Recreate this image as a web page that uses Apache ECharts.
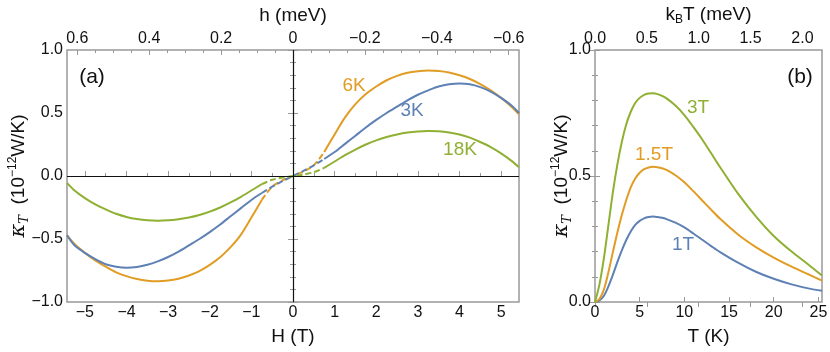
<!DOCTYPE html>
<html>
<head>
<meta charset="utf-8">
<script src="https://cdn.jsdelivr.net/npm/echarts@6/dist/echarts.min.js"></script>
<style>
  html, body { margin: 0; padding: 0; background: #fff; }
  #chart { width: 830px; height: 352px; }
</style>
</head>
<body>
<div id="chart"></div>
<script>
// panel (a): transverse thermal conductivity vs field
const fieldH = [-5.43, -5.25, -5, -4.75, -4.5, -4.25, -4, -3.75, -3.5, -3.25, -3, -2.75, -2.5, -2.25, -2, -1.75,
  -1.5, -1.25, -1, -0.75, -0.5, -0.25, 0,
  0.25, 0.5, 0.75, 1, 1.25, 1.5, 1.75, 2, 2.25, 2.5, 2.75, 3, 3.25, 3.5, 3.75, 4, 4.25, 4.5, 4.75, 5, 5.25, 5.43];
const kappa6K = [-0.47, -0.54, -0.61, -0.67, -0.72, -0.765, -0.795, -0.818, -0.832, -0.836, -0.83, -0.815, -0.79,
  -0.755, -0.705, -0.645, -0.565, -0.465, -0.33, -0.19, -0.085, -0.035, 0,
  0.035, 0.085, 0.19, 0.33, 0.465, 0.57, 0.65, 0.71, 0.76, 0.795, 0.82, 0.832, 0.837, 0.834, 0.822, 0.80,
  0.77, 0.73, 0.68, 0.62, 0.55, 0.49];
const kappa3K = [-0.47, -0.55, -0.61, -0.66, -0.7, -0.72, -0.728, -0.722, -0.705, -0.678, -0.643, -0.6, -0.55,
  -0.5, -0.445, -0.385, -0.32, -0.255, -0.19, -0.135, -0.085, -0.04, 0,
  0.04, 0.085, 0.135, 0.19, 0.255, 0.32, 0.385, 0.445, 0.50, 0.55, 0.60, 0.645, 0.68, 0.71, 0.728, 0.735,
  0.728, 0.705, 0.67, 0.62, 0.56, 0.50];
const kappa18K = [-0.055, -0.115, -0.175, -0.225, -0.265, -0.3, -0.325, -0.342, -0.352, -0.355, -0.352, -0.343,
  -0.33, -0.31, -0.283, -0.25, -0.21, -0.165, -0.115, -0.065, -0.03, -0.012, 0,
  0.012, 0.03, 0.065, 0.115, 0.165, 0.21, 0.25, 0.283, 0.31, 0.33, 0.345, 0.354, 0.357, 0.355, 0.346, 0.33,
  0.305, 0.27, 0.23, 0.18, 0.12, 0.07];
const dashLimit = 0.75;

// panel (b): vs temperature
const tempT = [0, 0.5, 1, 1.5, 2, 2.5, 3, 3.5, 4, 4.5, 5, 5.5, 6, 6.5, 7, 7.5, 8, 9, 10, 11, 12, 13, 14, 16, 18, 20, 22, 24, 25.4];
const kappa1T = [0, 0.006, 0.025, 0.062, 0.108, 0.158, 0.205, 0.246, 0.28, 0.306, 0.322, 0.332, 0.337, 0.339, 0.337,
  0.334, 0.329, 0.315, 0.296, 0.272, 0.247, 0.222, 0.198, 0.156, 0.12, 0.092, 0.07, 0.053, 0.045];
const kappa15T = [0, 0.012, 0.05, 0.118, 0.198, 0.275, 0.345, 0.405, 0.455, 0.49, 0.513, 0.527, 0.534, 0.537, 0.535,
  0.531, 0.524, 0.503, 0.475, 0.44, 0.403, 0.366, 0.33, 0.268, 0.218, 0.176, 0.14, 0.108, 0.085];
const kappa3T = [0, 0.07, 0.175, 0.305, 0.435, 0.545, 0.635, 0.705, 0.755, 0.79, 0.81, 0.822, 0.827, 0.828, 0.825,
  0.818, 0.808, 0.78, 0.742, 0.695, 0.645, 0.59, 0.535, 0.43, 0.34, 0.262, 0.2, 0.145, 0.105];

// tick labels
const hTicks = [-5, -4, -3, -2, -1, 0, 1, 2, 3, 4, 5];
const hMinor = [-5.5, -4.5, -3.5, -2.5, -1.5, -0.5, 0.5, 1.5, 2.5, 3.5, 4.5];
const meVTicks = [-0.6, -0.4, -0.2, 0, 0.2, 0.4, 0.6];
const meVMinor = [-0.55, -0.5, -0.45, -0.35, -0.3, -0.25, -0.15, -0.1, -0.05,
  0.05, 0.1, 0.15, 0.25, 0.3, 0.35, 0.45, 0.5, 0.55];
const tTicks = [0, 5, 10, 15, 20, 25];
const kbTTicks = [0, 0.5, 1, 1.5, 2];

const H_MAX = 5.43, T_MAX = 25.4;
const MEV_PER_T = 0.11577, MEV_PER_K = 0.08617;

const BLUE = '#5e81b5', ORANGE = '#e19c24', GREEN = '#8fb032';
const FONT = 'Liberation Sans, Arial, Helvetica, sans-serif';
const FRAME = '#999';

const minus = s => String(s).replace('-', '\u2212');

function pairs(xs, ys, test) {
  const out = [];
  xs.forEach((x, i) => { if (test(x)) out.push([x, ys[i]]); });
  return out;
}

const tickLabel = { fontFamily: FONT, fontSize: 16, color: '#111' };
const nameStyle = { fontFamily: FONT, fontSize: 19, color: '#111' };
const yName = '{k|\u03ba}{s|T}  (10{p|\u221212}W/K)';
const yRich = {
  k: { fontFamily: 'DejaVu Serif', fontStyle: 'italic', fontSize: 21, lineHeight: 24, color: '#111' },
  s: { fontFamily: 'DejaVu Serif', fontStyle: 'italic', fontSize: 13, lineHeight: 14, verticalAlign: 'bottom', color: '#111' },
  p: { fontFamily: FONT, fontSize: 12, lineHeight: 12, verticalAlign: 'top', color: '#111' }
};

function majorTick() {
  return { show: true, inside: true, length: 5, lineStyle: { color: FRAME, width: 1 } };
}

function xAx(grid, opts) {
  return Object.assign({
    type: 'value', gridIndex: grid,
    axisLine: { show: false }, splitLine: { show: false },
    axisTick: majorTick(),
    axisLabel: { show: false },
    nameMoveOverlap: false
  }, opts);
}

const xAxis = [
  xAx(0, { min: -H_MAX, max: H_MAX, position: 'bottom',
    axisTick: Object.assign(majorTick(), { customValues: hTicks }),
    axisLabel: Object.assign({ show: true, margin: 3, customValues: hTicks, formatter: v => minus(v) }, tickLabel),
    name: 'H (T)', nameLocation: 'middle', nameGap: 25, nameTextStyle: nameStyle }),
  xAx(0, { min: -H_MAX, max: H_MAX, position: 'bottom',
    axisTick: { show: true, inside: true, length: 3, customValues: hMinor, lineStyle: { color: FRAME } } }),
  xAx(0, { min: -H_MAX * MEV_PER_T, max: H_MAX * MEV_PER_T, inverse: true, position: 'top',
    axisTick: Object.assign(majorTick(), { customValues: meVTicks }),
    axisLabel: Object.assign({ show: true, margin: 3, customValues: meVTicks,
      formatter: v => Math.abs(v) < 1e-9 ? '0' : minus(v.toFixed(1)) }, tickLabel),
    name: 'h (meV)', nameLocation: 'middle', nameGap: 25, nameTextStyle: nameStyle }),
  xAx(0, { min: -H_MAX * MEV_PER_T, max: H_MAX * MEV_PER_T, inverse: true, position: 'top',
    axisTick: { show: true, inside: true, length: 3, customValues: meVMinor, lineStyle: { color: FRAME } } }),
  xAx(1, { min: 0, max: T_MAX, position: 'bottom',
    axisTick: Object.assign(majorTick(), { customValues: tTicks }),
    axisLabel: Object.assign({ show: true, margin: 3, customValues: tTicks }, tickLabel),
    name: 'T (K)', nameLocation: 'middle', nameGap: 25, nameTextStyle: nameStyle }),
  xAx(1, { min: 0, max: T_MAX * MEV_PER_K, position: 'top',
    axisTick: Object.assign(majorTick(), { customValues: kbTTicks }),
    axisLabel: Object.assign({ show: true, margin: 3, customValues: kbTTicks, formatter: v => v.toFixed(1) }, tickLabel),
    name: '{n|k}{b|B}{n|T (meV)}', nameLocation: 'middle', nameGap: 24,
    nameTextStyle: Object.assign({ rich: {
      n: { fontFamily: FONT, fontSize: 19, lineHeight: 22, color: '#111' },
      b: { fontFamily: FONT, fontSize: 12, lineHeight: 12, verticalAlign: 'bottom', color: '#111' }
    } }, nameStyle) })
];

function yAx(grid, min, max, pos, labels, name, gap) {
  const ax = {
    type: 'value', gridIndex: grid, min: min, max: max, interval: 0.5, position: pos,
    axisLine: { show: false }, splitLine: { show: false },
    axisTick: majorTick(),
    minorTick: { show: true, splitNumber: 5, length: 3, lineStyle: { color: FRAME } },
    axisLabel: Object.assign({ show: labels, margin: 4, formatter: v => minus(v.toFixed(1)) }, tickLabel),
    nameMoveOverlap: false
  };
  if (name) {
    ax.name = name;
    ax.nameLocation = 'middle';
    ax.nameGap = gap;
    ax.nameTextStyle = Object.assign({ rich: yRich }, nameStyle);
  }
  return ax;
}

const yAxis = [
  yAx(0, -1, 1, 'left', true, yName, 36),
  yAx(0, -1, 1, 'right', false),
  yAx(1, 0, 1, 'left', true, yName, 21),
  yAx(1, 0, 1, 'right', false)
];

function lineSeries(data, color, dashed, xi, yi) {
  return {
    type: 'line', data: data, xAxisIndex: xi, yAxisIndex: yi,
    smooth: 0.3, showSymbol: false, silent: true, animation: false,
    lineStyle: { color: color, width: 2, type: dashed ? [6, 3] : 'solid' }
  };
}

const series = [];
[[kappa6K, ORANGE], [kappa3K, BLUE], [kappa18K, GREEN]].forEach(([ys, c]) => {
  series.push(lineSeries(pairs(fieldH, ys, x => x <= -dashLimit), c, false, 0, 0));
  series.push(lineSeries(pairs(fieldH, ys, x => x >= dashLimit), c, false, 0, 0));
  series.push(lineSeries(pairs(fieldH, ys, x => Math.abs(x) <= dashLimit), c, true, 0, 0));
});
// zero lines in panel (a)
series[0].markLine = {
  silent: true, symbol: 'none', label: { show: false }, animation: false,
  lineStyle: { color: '#111', width: 1.2, type: 'solid' },
  data: [{ yAxis: 0 }, { xAxis: 0 }]
};
[[kappa1T, BLUE], [kappa15T, ORANGE], [kappa3T, GREEN]].forEach(([ys, c]) => {
  series.push(lineSeries(tempT.map((t, i) => [t, ys[i]]), c, false, 4, 2));
});

function note(text, x, y, color, size) {
  return {
    type: 'text', x: x, y: y, silent: true, z: 10,
    style: { text: text, fill: color, font: size + 'px ' + FONT, align: 'center', verticalAlign: 'middle' }
  };
}

const chart = echarts.init(document.getElementById('chart'));
chart.setOption({
  animation: false,
  backgroundColor: '#fff',
  grid: [
    { left: 67, top: 50, width: 452, height: 252, show: true, borderColor: FRAME, borderWidth: 1.5,
      containLabel: false, outerBoundsMode: 'none' },
    { left: 595, top: 50, width: 227, height: 252, show: true, borderColor: FRAME, borderWidth: 1.5,
      containLabel: false, outerBoundsMode: 'none' }
  ],
  xAxis: xAxis,
  yAxis: yAxis,
  series: series,
  graphic: [
    note('(a)', 92, 77, '#111', 21),
    note('(b)', 800, 77, '#111', 21),
    note('6K', 354, 86, ORANGE, 19),
    note('3K', 412, 111, BLUE, 19),
    note('18K', 460, 150, GREEN, 19),
    note('3T', 698, 108, GREEN, 19),
    note('1.5T', 654, 155, ORANGE, 19),
    note('1T', 683, 245, BLUE, 19)
  ]
});
</script>
</body>
</html>
